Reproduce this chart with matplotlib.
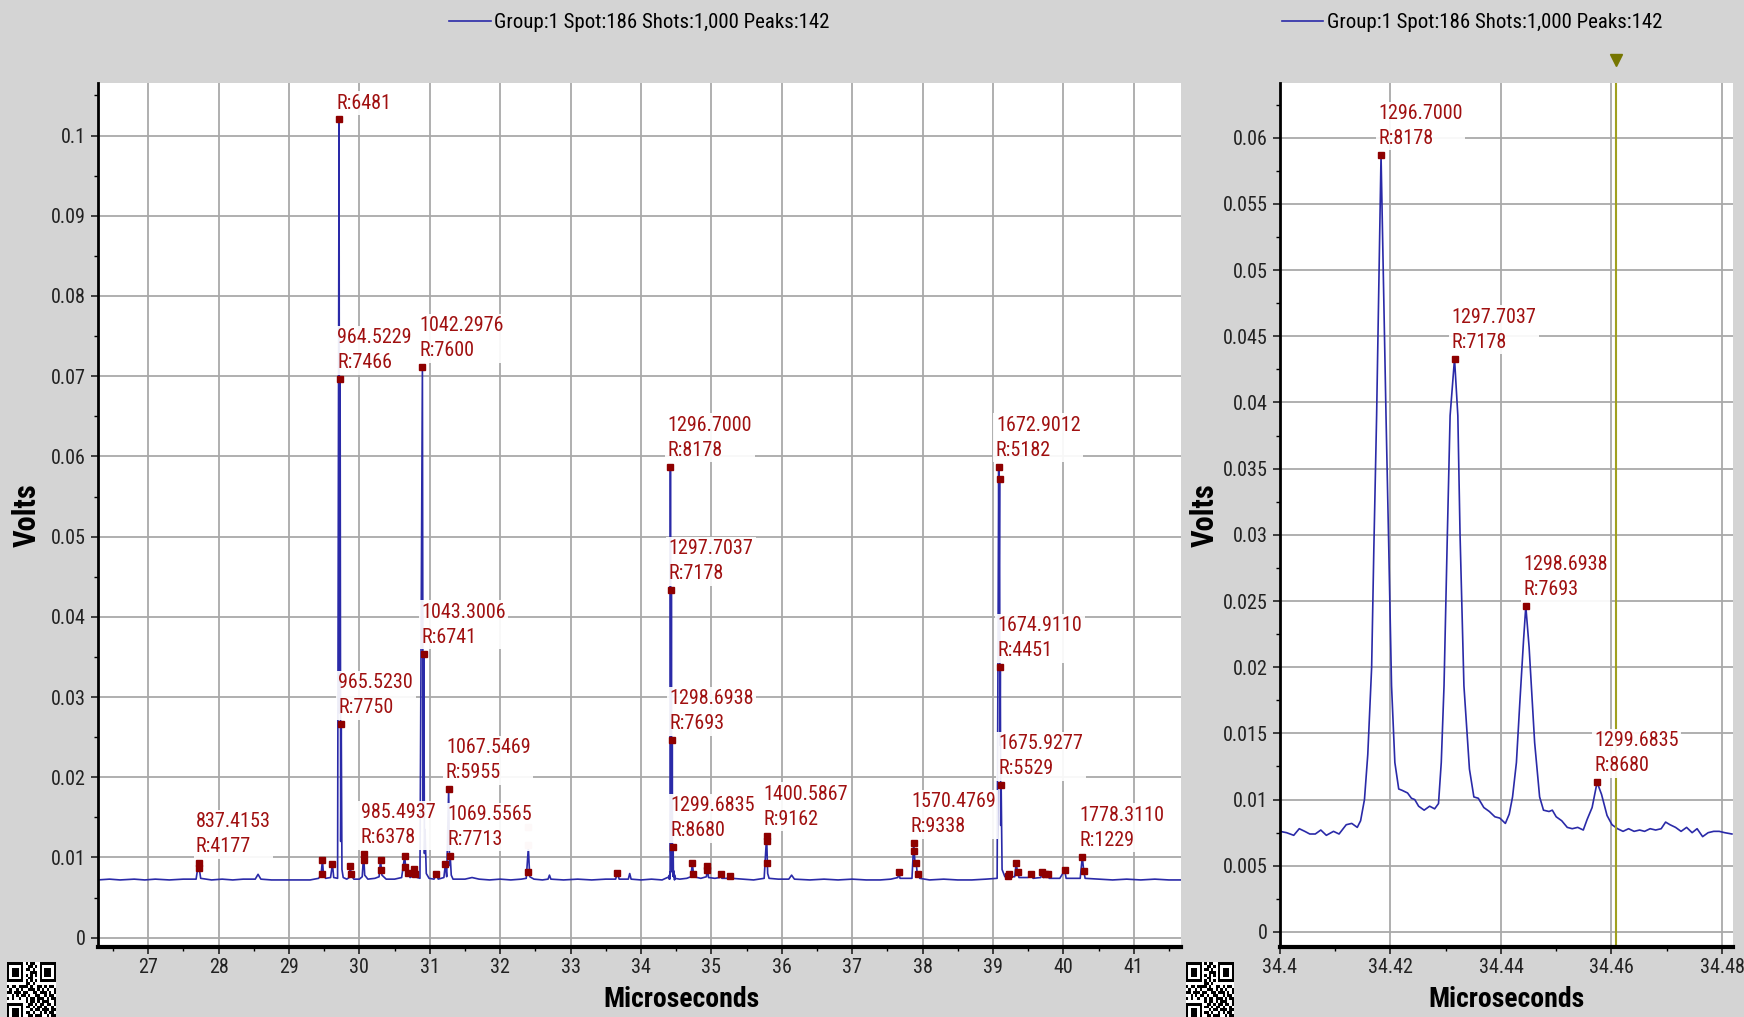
import matplotlib.pyplot as plt
import matplotlib.transforms as mtransforms
from matplotlib import ticker
import numpy as np

plt.rcParams['font.family'] = ['Roboto Condensed', 'DejaVu Sans']

# survey trace (Microseconds, Volts), read peak by peak; the 34.40-34.48 window comes from zoom_trace
survey = [
    (26.28, 0.0072), (26.45, 0.0073), (26.60, 0.0072), (26.80, 0.0073), (26.95, 0.0072),
    (27.10, 0.0073), (27.30, 0.0072), (27.50, 0.0073), (27.68, 0.0073),
    (27.705, 0.0088), (27.717, 0.0093), (27.725, 0.0086), (27.745, 0.0074),
    (27.90, 0.0072), (28.05, 0.0073), (28.20, 0.0072), (28.35, 0.0073), (28.52, 0.0073),
    (28.56, 0.0079), (28.60, 0.0073), (28.75, 0.0072), (28.95, 0.0072), (29.15, 0.0072),
    (29.30, 0.0072), (29.42, 0.0074), (29.455, 0.0078), (29.475, 0.0097), (29.49, 0.0078),
    (29.52, 0.0074), (29.59, 0.0075), (29.617, 0.0092), (29.635, 0.0075), (29.69, 0.0074),
    (29.711, 0.1020), (29.718, 0.0280), (29.726, 0.0696), (29.734, 0.0120), (29.742, 0.0266),
    (29.752, 0.0085), (29.77, 0.0075), (29.82, 0.0073), (29.855, 0.0075), (29.87, 0.0089),
    (29.885, 0.0078), (29.92, 0.0073), (30.00, 0.0073), (30.04, 0.0076), (30.06, 0.0104),
    (30.075, 0.0078), (30.12, 0.0073), (30.22, 0.0074), (30.28, 0.0076), (30.30, 0.0097),
    (30.32, 0.0078), (30.38, 0.0073), (30.50, 0.0073), (30.60, 0.0075), (30.643, 0.0102),
    (30.665, 0.0080), (30.69, 0.0081), (30.72, 0.0075), (30.76, 0.0077), (30.776, 0.0086),
    (30.79, 0.0076), (30.86, 0.0074), (30.895, 0.0711), (30.905, 0.0150), (30.915, 0.0354),
    (30.924, 0.0105), (30.932, 0.0135), (30.95, 0.0080), (30.99, 0.0074), (31.06, 0.0073),
    (31.093, 0.0079), (31.12, 0.0073), (31.20, 0.0075), (31.222, 0.0092), (31.24, 0.0076),
    (31.268, 0.0185), (31.28, 0.0090), (31.29, 0.0102), (31.305, 0.0078), (31.33, 0.0073),
    (31.50, 0.0073), (31.60, 0.0075), (31.70, 0.0073), (31.85, 0.0072), (32.00, 0.0073),
    (32.15, 0.0072), (32.30, 0.0073), (32.37, 0.0074), (32.40, 0.0112), (32.42, 0.0076),
    (32.48, 0.0073), (32.60, 0.0072), (32.68, 0.0073), (32.70, 0.0078), (32.72, 0.0073),
    (32.90, 0.0072), (33.10, 0.0073), (33.30, 0.0072), (33.50, 0.0073), (33.64, 0.0073),
    (33.665, 0.0081), (33.69, 0.0073), (33.82, 0.0073), (33.84, 0.0080), (33.86, 0.0073),
    (34.00, 0.0072), (34.15, 0.0073), (34.30, 0.0072),
    (34.55, 0.0073), (34.65, 0.0074), (34.71, 0.0076), (34.73, 0.0093), (34.75, 0.0076),
    (34.85, 0.0074), (34.93, 0.0076), (34.944, 0.0089), (34.96, 0.0075), (35.05, 0.0074),
    (35.12, 0.0075), (35.13, 0.0079), (35.15, 0.0074), (35.25, 0.0074), (35.27, 0.0077),
    (35.29, 0.0074), (35.45, 0.0073), (35.60, 0.0072), (35.75, 0.0074), (35.785, 0.0127),
    (35.80, 0.0080), (35.82, 0.0074), (35.95, 0.0073), (36.10, 0.0073), (36.14, 0.0078),
    (36.18, 0.0073), (36.40, 0.0072), (36.60, 0.0073), (36.80, 0.0072), (37.00, 0.0073),
    (37.20, 0.0072), (37.40, 0.0072), (37.55, 0.0073), (37.65, 0.0075), (37.665, 0.0082),
    (37.68, 0.0074), (37.85, 0.0074), (37.875, 0.0118), (37.895, 0.0090), (37.91, 0.0093),
    (37.925, 0.0080), (37.94, 0.0080), (37.96, 0.0074), (38.10, 0.0072), (38.30, 0.0073),
    (38.50, 0.0072), (38.70, 0.0072), (38.90, 0.0073), (39.06, 0.0074), (39.082, 0.0587),
    (39.088, 0.0450), (39.094, 0.0572), (39.100, 0.0240), (39.105, 0.0337), (39.111, 0.0140),
    (39.117, 0.0190), (39.13, 0.0085), (39.17, 0.0076), (39.21, 0.0076), (39.22, 0.0079),
    (39.24, 0.0076), (39.31, 0.0076), (39.33, 0.0093), (39.35, 0.0082), (39.37, 0.0075),
    (39.50, 0.0075), (39.545, 0.0080), (39.57, 0.0074), (39.68, 0.0075), (39.70, 0.0082),
    (39.72, 0.0075), (39.76, 0.0076), (39.78, 0.0080), (39.80, 0.0074), (39.95, 0.0074),
    (40.02, 0.0084), (40.04, 0.0074), (40.24, 0.0074), (40.27, 0.0101), (40.29, 0.0083),
    (40.31, 0.0074), (40.50, 0.0073), (40.70, 0.0072), (40.90, 0.0073), (41.10, 0.0072),
    (41.30, 0.0073), (41.50, 0.0072), (41.70, 0.0072),
]

# 34.40 - 34.48 us, the 1296-1299 isotope cluster at full resolution
zoom_trace = [
    (34.4000, 0.0076), (34.4012, 0.0075), (34.4025, 0.0073), (34.4035, 0.0078), (34.4045, 0.0076),
    (34.4054, 0.0074), (34.4064, 0.0074), (34.4074, 0.0077), (34.4084, 0.0073), (34.4097, 0.0076),
    (34.4107, 0.0074), (34.4120, 0.0081), (34.4130, 0.0082), (34.4140, 0.0079), (34.4146, 0.0084),
    (34.4153, 0.0100), (34.4159, 0.0134), (34.4166, 0.0200), (34.4170, 0.0290), (34.4175, 0.0390),
    (34.4183, 0.0587), (34.4192, 0.0390), (34.4197, 0.0290), (34.4202, 0.0186), (34.4208, 0.0128),
    (34.4215, 0.0108), (34.4221, 0.0107), (34.4231, 0.0105), (34.4238, 0.0101), (34.4244, 0.0100),
    (34.4251, 0.0095), (34.4261, 0.0092), (34.4271, 0.0095), (34.4280, 0.0093), (34.4287, 0.0097),
    (34.4292, 0.0128), (34.4297, 0.0186), (34.4303, 0.0300), (34.4308, 0.0390), (34.4316, 0.0433),
    (34.4322, 0.0390), (34.4326, 0.0300), (34.4333, 0.0186), (34.4343, 0.0123), (34.4351, 0.0102),
    (34.4359, 0.0101), (34.4369, 0.0094), (34.4379, 0.0091), (34.4389, 0.0087), (34.4398, 0.0086),
    (34.4408, 0.0082), (34.4415, 0.0089), (34.4421, 0.0102), (34.4428, 0.0128), (34.4434, 0.0172),
    (34.4441, 0.0221), (34.4445, 0.0246), (34.4451, 0.0215), (34.4461, 0.0143), (34.4470, 0.0102),
    (34.4477, 0.0092), (34.4487, 0.0091), (34.4493, 0.0092), (34.4500, 0.0087), (34.4510, 0.0084),
    (34.4520, 0.0079), (34.4529, 0.0078), (34.4539, 0.0079), (34.4549, 0.0077), (34.4556, 0.0085),
    (34.4565, 0.0094), (34.4574, 0.0113), (34.4582, 0.0104), (34.4592, 0.0088), (34.4601, 0.0081),
    (34.4611, 0.0078), (34.4621, 0.0076), (34.4631, 0.0078), (34.4641, 0.0076), (34.4651, 0.0077),
    (34.4660, 0.0076), (34.4670, 0.0078), (34.4680, 0.0077), (34.4690, 0.0078), (34.4698, 0.0083),
    (34.4706, 0.0081), (34.4716, 0.0079), (34.4726, 0.0076), (34.4736, 0.0079), (34.4746, 0.0075),
    (34.4755, 0.0078), (34.4765, 0.0072), (34.4775, 0.0075), (34.4785, 0.0076), (34.4795, 0.0076),
    (34.4805, 0.0075), (34.4818, 0.0074),
]

# picked peaks (Microseconds, Volts)
cluster_peaks = [(34.4183, 0.0587), (34.4316, 0.0433), (34.4445, 0.0246), (34.4574, 0.0113)]
cluster_labels = ["1296.7000\nR:8178", "1297.7037\nR:7178", "1298.6938\nR:7693", "1299.6835\nR:8680"]

survey_peaks = [
    (27.717, 0.0093), (27.722, 0.0087), (29.475, 0.0097), (29.468, 0.0080), (29.617, 0.0092),
    (29.711, 0.1020), (29.726, 0.0696), (29.742, 0.0266), (29.87, 0.0089), (29.88, 0.0080),
    (30.06, 0.0104), (30.06, 0.0097), (30.30, 0.0097), (30.31, 0.0085), (30.643, 0.0102),
    (30.643, 0.0088), (30.69, 0.0081), (30.776, 0.0086), (30.785, 0.0080), (30.895, 0.0711),
    (30.915, 0.0354), (31.093, 0.0079), (31.222, 0.0092), (31.268, 0.0185), (31.29, 0.0102),
    (32.40, 0.0082), (33.665, 0.0081), (34.73, 0.0093), (34.735, 0.0079), (34.944, 0.0089),
    (34.944, 0.0085), (35.13, 0.0079), (35.27, 0.0077), (35.785, 0.0127), (35.79, 0.0120),
    (35.79, 0.0093), (37.665, 0.0082), (37.875, 0.0118), (37.875, 0.0108), (37.91, 0.0093),
    (37.94, 0.0080), (39.082, 0.0587), (39.094, 0.0572), (39.105, 0.0337), (39.117, 0.0190),
    (39.22, 0.0077), (39.23, 0.0079), (39.33, 0.0093), (39.35, 0.0082), (39.545, 0.0080),
    (39.70, 0.0082), (39.74, 0.0080), (39.78, 0.0080), (40.02, 0.0084), (40.27, 0.0101),
    (40.29, 0.0083),
]
faded_peaks = [(32.40, 0.0138), (32.40, 0.0115)]

survey_labels = [
    ("R:6481", 29.711, 0.1020),
    ("964.5229\nR:7466", 29.726, 0.0696),
    ("965.5230\nR:7750", 29.742, 0.0266),
    ("837.4153\nR:4177", 27.717, 0.0093),
    ("985.4937\nR:6378", 30.06, 0.0104),
    ("1042.2976\nR:7600", 30.895, 0.0711),
    ("1043.3006\nR:6741", 30.915, 0.0354),
    ("1067.5469\nR:5955", 31.268, 0.0185),
    ("1069.5565\nR:7713", 31.29, 0.0102),
    ("1400.5867\nR:9162", 35.785, 0.0127),
    ("1570.4769\nR:9338", 37.875, 0.0118),
    ("1672.9012\nR:5182", 39.082, 0.0587),
    ("1674.9110\nR:4451", 39.105, 0.0337),
    ("1675.9277\nR:5529", 39.117, 0.0190),
    ("1778.3110\nR:1229", 40.27, 0.0101),
]

cursor_us = 34.4609
legend_text = "Group:1 Spot:186 Shots:1,000 Peaks:142"

# small QR stamp printed next to each panel
qr_rows = [
    "111111101011001111111", "100000100110101000001", "101110101101001011101",
    "101110100011101011101", "101110101010101011101", "100000100110001000001",
    "111111101010101111111", "000000001101000000000", "101101111010011010110",
    "010010100111010101001", "110111011001101110101", "001010110100110010110",
    "101001001011011101011", "000000001011010111001", "111111100110101101101",
    "100000101101011010010", "101110100010110111011", "101110101101001010110",
    "101110100110111001011", "100000101011010110100", "111111100101101011011",
]

bg_grey = '#d4d4d4'
trace_blue = '#2a2aa8'
peak_red = '#8e0000'
label_red = '#a01010'

fig = plt.figure(figsize=(17.44, 10.17), dpi=100, facecolor=bg_grey)
ax_full = fig.add_axes([0.0561, 0.0693, 0.6210, 0.8487])
ax_zoom = fig.add_axes([0.7339, 0.0693, 0.2598, 0.8487])

fmt = ticker.FuncFormatter(lambda v, p: f"{v:g}")


def style_axes(ax):
    ax.set_facecolor('white')
    ax.spines['top'].set_visible(False)
    ax.spines['right'].set_visible(False)
    ax.spines['left'].set_linewidth(2)
    ax.spines['bottom'].set_linewidth(3)
    ax.grid(True, which='major', color='#a9a9a9', linewidth=1.3)
    ax.set_axisbelow(True)
    ax.tick_params(which='major', direction='out', length=5, width=1.2, labelsize=14.5, colors='#222222')
    ax.tick_params(which='minor', direction='out', length=3, width=1)
    ax.xaxis.set_major_formatter(fmt)
    ax.yaxis.set_major_formatter(fmt)
    ax.set_xlabel("Microseconds", fontsize=20, fontweight='bold')
    ax.set_ylabel("Volts", fontsize=22, fontweight='bold')


def add_labels(ax, items):
    for text, x, v in items:
        ax.annotate(text, (x, v), xytext=(-2, 5), textcoords='offset points',
                    ha='left', va='bottom', color=label_red, fontsize=14.5, linespacing=1.4,
                    bbox=dict(boxstyle='square,pad=0.12', fc='white', ec='none', alpha=0.92),
                    zorder=5, annotation_clip=True, clip_on=True)


# left: whole spectrum
full_trace = sorted(survey + zoom_trace)
us, volts = zip(*full_trace)
ax_full.plot(us, volts, color=trace_blue, lw=1.2, zorder=2, label=legend_text)
px, pv = zip(*(survey_peaks + cluster_peaks))
ax_full.plot(px, pv, 's', color=peak_red, ms=3.8, zorder=3)
fx, fv = zip(*faded_peaks)
ax_full.plot(fx, fv, 's', color='#e8b0b0', ms=3.8, zorder=3)
add_labels(ax_full, survey_labels + [(t, x, v) for t, (x, v) in zip(cluster_labels, cluster_peaks)])

style_axes(ax_full)
ax_full.set_xlim(26.284, 41.67)
ax_full.set_ylim(-0.0011, 0.1065)
ax_full.xaxis.set_major_locator(ticker.MultipleLocator(1))
ax_full.xaxis.set_minor_locator(ticker.MultipleLocator(0.5))
ax_full.yaxis.set_major_locator(ticker.MultipleLocator(0.01))
ax_full.yaxis.set_minor_locator(ticker.MultipleLocator(0.005))
ax_full.xaxis.set_label_coords(0.539, -0.046)
ax_full.yaxis.set_label_coords(-0.0516, 0.5)
ax_full.legend(loc='center', bbox_to_anchor=(0.3667, 0.978), bbox_transform=fig.transFigure,
               frameon=False, fontsize=15, handlelength=2.0, handletextpad=0.15)

# right: zoom on the 1296 cluster
zx, zv = zip(*zoom_trace)
ax_zoom.plot(zx, zv, color=trace_blue, lw=1.2, zorder=2, label=legend_text)
cx, cv = zip(*cluster_peaks)
ax_zoom.plot(cx, cv, 's', color=peak_red, ms=3.8, zorder=3)
add_labels(ax_zoom, [(t, x, v) for t, (x, v) in zip(cluster_labels, cluster_peaks)])
ax_zoom.axvline(cursor_us, color='#a0a020', lw=1.5, zorder=2.5)
trans = mtransforms.blended_transform_factory(ax_zoom.transData, ax_zoom.transAxes)
ax_zoom.plot([cursor_us], [1.027], marker='v', color='#767600', ms=9, transform=trans, clip_on=False)

style_axes(ax_zoom)
ax_zoom.set_xlim(34.4, 34.482)
ax_zoom.set_ylim(-0.0011, 0.0641)
ax_zoom.xaxis.set_major_locator(ticker.MultipleLocator(0.02))
ax_zoom.xaxis.set_minor_locator(ticker.MultipleLocator(0.01))
ax_zoom.yaxis.set_major_locator(ticker.MultipleLocator(0.005))
ax_zoom.yaxis.set_minor_locator(ticker.MultipleLocator(0.0025))
ax_zoom.xaxis.set_label_coords(0.501, -0.046)
ax_zoom.yaxis.set_label_coords(-0.132, 0.5)
ax_zoom.legend(loc='center', bbox_to_anchor=(0.844, 0.978), bbox_transform=fig.transFigure,
               frameon=False, fontsize=15, handlelength=2.0, handletextpad=0.15)

# QR stamps in the lower-left corners, running off the bottom edge
qr = np.array([[int(c) for c in row] for row in qr_rows])
for left in (7 / 1744, 1186 / 1744):
    qax = fig.add_axes([left, -6 / 1017, 48 / 1744, 61 / 1017])
    qax.imshow(1 - qr, cmap='gray', interpolation='nearest', aspect='auto')
    qax.axis('off')

fig.savefig("out.png", dpi=100, facecolor=bg_grey)
